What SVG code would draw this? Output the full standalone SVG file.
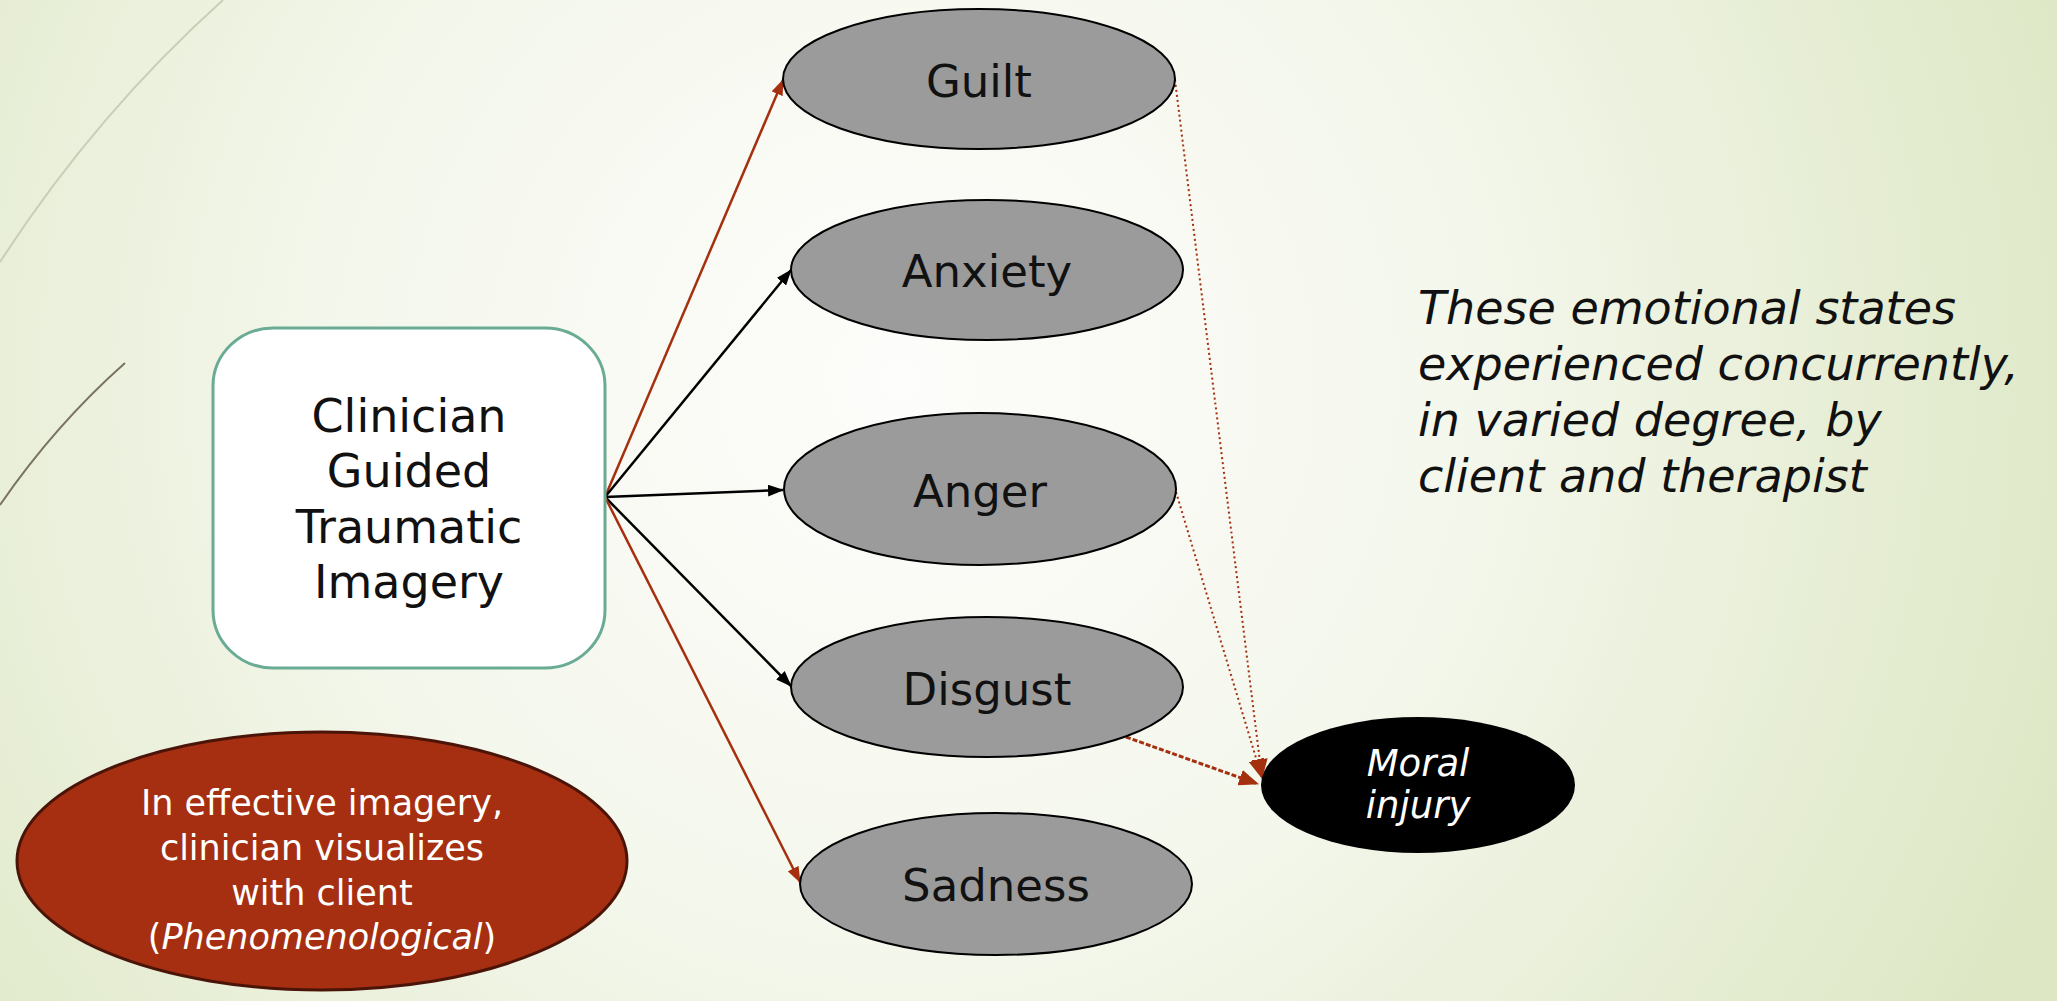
<svg xmlns="http://www.w3.org/2000/svg" width="2057" height="1001" viewBox="0 0 2057 1001">
<defs>
<radialGradient id="bg" cx="900" cy="380" r="1250" gradientUnits="userSpaceOnUse">
<stop offset="0" stop-color="#fdfdfb"/>
<stop offset="0.45" stop-color="#f4f7ec"/>
<stop offset="1" stop-color="#dde7c4"/>
</radialGradient>
<marker id="ab" markerWidth="16" markerHeight="12" refX="15" refY="6" orient="auto" markerUnits="userSpaceOnUse">
<path d="M0,0 L16,6 L0,12 Z" fill="#000"/>
</marker>
<marker id="ar" markerWidth="16" markerHeight="12" refX="15" refY="6" orient="auto" markerUnits="userSpaceOnUse">
<path d="M0,0 L16,6 L0,12 Z" fill="#a5300f"/>
</marker>
<marker id="ar2" markerWidth="20" markerHeight="16" refX="19" refY="8" orient="auto" markerUnits="userSpaceOnUse">
<path d="M0,0 L20,8 L0,16 Z" fill="#a5300f"/>
</marker>
</defs>
<style>
.emo{fill:#9b9b9b;stroke:#000;stroke-width:2}
.lbl{font-family:"DejaVu Sans",sans-serif;font-size:45px;fill:#111;text-anchor:middle}
.box{font-family:"DejaVu Sans",sans-serif;font-size:46px;fill:#111;text-anchor:middle}
.blk{stroke:#000;stroke-width:2.5;fill:none}
.red{stroke:#a5300f;stroke-width:2.5;fill:none}
.dot{stroke:#a5300f;stroke-width:2;fill:none;stroke-dasharray:2 3}
.dash{stroke:#a5300f;stroke-width:3;fill:none;stroke-dasharray:5 2}
</style>
<rect x="0" y="0" width="2057" height="1001" fill="url(#bg)"/>
<path d="M0,262 Q95,115 223,0" stroke="#c9ceb6" stroke-width="2" fill="none"/>
<path d="M0,505 Q55,425 125,363" stroke="#7a7360" stroke-width="2" fill="none"/>

<g id="connectors">
<line class="red" x1="605" y1="497" x2="783" y2="80" marker-end="url(#ar)"/>
<line class="blk" x1="605" y1="497" x2="791" y2="270" marker-end="url(#ab)"/>
<line class="blk" x1="605" y1="497" x2="783" y2="490" marker-end="url(#ab)"/>
<line class="blk" x1="605" y1="497" x2="791" y2="686" marker-end="url(#ab)"/>
<line class="red" x1="605" y1="497" x2="800" y2="882" marker-end="url(#ar)"/>
<line class="dot" x1="1175" y1="80" x2="1262" y2="778" marker-end="url(#ar2)"/>
<line class="dot" x1="1176" y1="492" x2="1262" y2="778" marker-end="url(#ar2)"/>
<line class="dash" x1="1126" y1="737" x2="1258" y2="784" marker-end="url(#ar2)"/>
</g>

<g id="clinician">
<rect x="213" y="328" width="392" height="340" rx="60" ry="58" fill="#fff" stroke="#6aab93" stroke-width="3"/>
<text class="box" x="409" y="432">Clinician</text>
<text class="box" x="409" y="487">Guided</text>
<text class="box" x="409" y="543">Traumatic</text>
<text class="box" x="409" y="598">Imagery</text>
</g>

<g id="guilt">
<ellipse class="emo" cx="979" cy="79" rx="196" ry="70"/>
<text class="lbl" x="979" y="97">Guilt</text>
</g>
<g id="anxiety">
<ellipse class="emo" cx="987" cy="270" rx="196" ry="70"/>
<text class="lbl" x="987" y="287">Anxiety</text>
</g>
<g id="anger">
<ellipse class="emo" cx="980" cy="489" rx="196" ry="76"/>
<text class="lbl" x="980" y="507">Anger</text>
</g>
<g id="disgust">
<ellipse class="emo" cx="987" cy="687" rx="196" ry="70"/>
<text class="lbl" x="987" y="705">Disgust</text>
</g>
<g id="sadness">
<ellipse class="emo" cx="996" cy="884" rx="196" ry="71"/>
<text class="lbl" x="996" y="901">Sadness</text>
</g>

<g id="moral-injury">
<ellipse cx="1418" cy="785" rx="157" ry="68" fill="#000"/>
<text x="1418" y="776" font-family="DejaVu Sans, sans-serif" font-size="37" font-style="italic" fill="#fff" text-anchor="middle">Moral</text>
<text x="1418" y="818" font-family="DejaVu Sans, sans-serif" font-size="37" font-style="italic" fill="#fff" text-anchor="middle">injury</text>
</g>

<g id="phenomenological">
<ellipse cx="322" cy="861" rx="305" ry="129" fill="#a52f10" stroke="#4a1408" stroke-width="3"/>
<g font-family="DejaVu Sans, sans-serif" font-size="35" fill="#fff" text-anchor="middle">
<text x="322" y="815">In effective imagery,</text>
<text x="322" y="860">clinician visualizes</text>
<text x="322" y="905">with client</text>
<text x="322" y="949">(<tspan font-style="italic">Phenomenological</tspan>)</text>
</g>
</g>

<g id="note" font-family="DejaVu Sans, sans-serif" font-size="46" font-style="italic" fill="#111">
<text x="1418" y="324">These emotional states</text>
<text x="1418" y="380">experienced concurrently,</text>
<text x="1418" y="436">in varied degree, by</text>
<text x="1418" y="492">client and therapist</text>
</g>
</svg>
